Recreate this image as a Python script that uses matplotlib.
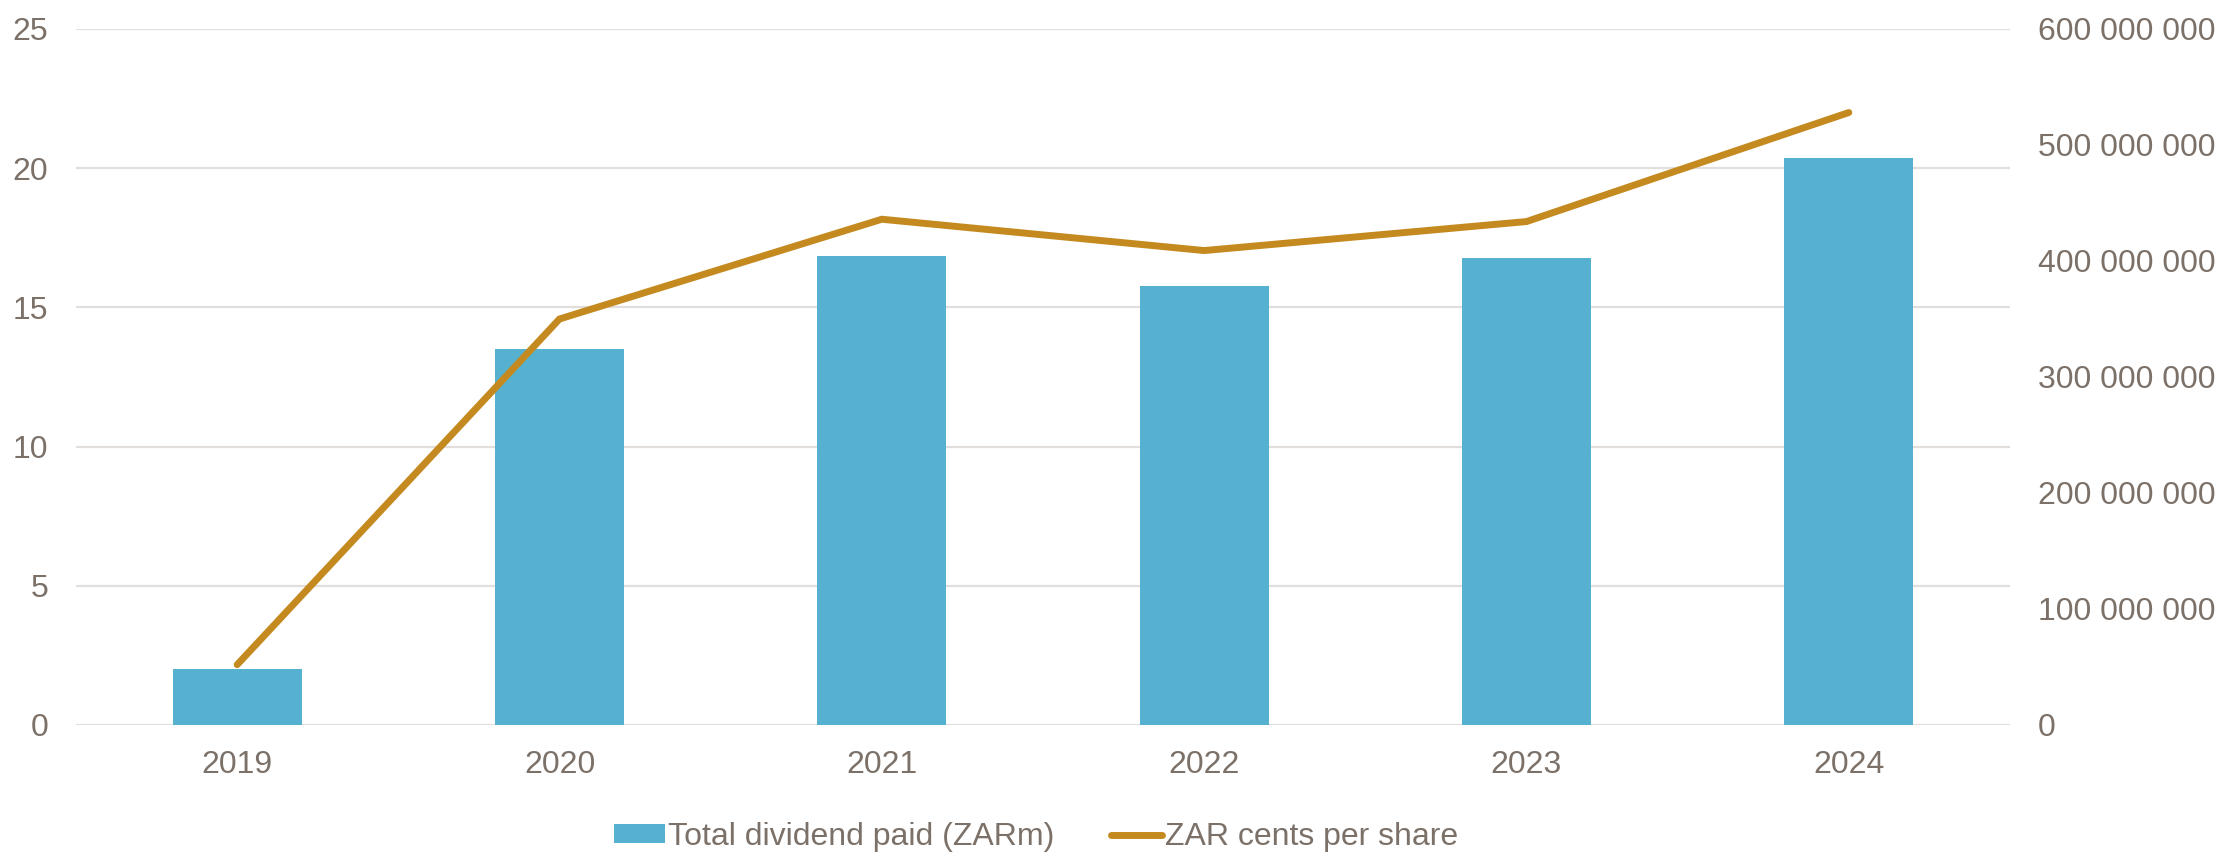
import matplotlib
matplotlib.use("Agg")
import matplotlib.pyplot as plt
from matplotlib.ticker import FuncFormatter, MultipleLocator
from matplotlib import font_manager

years = ["2019", "2020", "2021", "2022", "2023", "2024"]
total_dividend = [2.0, 13.5, 16.85, 15.77, 16.76, 20.38]
cents_per_share = [52e6, 350e6, 436e6, 409e6, 434e6, 528e6]

TEXT = "#7b7169"
GRID = "#e1dedb"
BAR = "#55b1cf"
LINE = "#c48a1f"

names = {f.name for f in font_manager.fontManager.ttflist}
main_font = "Liberation Sans" if "Liberation Sans" in names else "DejaVu Sans"
plt.rcParams["font.family"] = [main_font, "DejaVu Sans"]

FS = 23

fig = plt.figure(figsize=(22.23, 8.52), dpi=100)
ax = fig.add_axes([76 / 2223, 1 - 725 / 852, (2010 - 76) / 2223, (725 - 29) / 852])
ax2 = ax.twinx()

x = list(range(len(years)))
bars = ax.bar(x, total_dividend, width=0.4, color=BAR, zorder=2,
              label="Total dividend paid (ZARm)")
line, = ax2.plot(x, cents_per_share, color=LINE, lw=5.0, solid_capstyle="round",
                 solid_joinstyle="miter", label="ZAR cents per share", zorder=3)

ax.set_xlim(-0.5, len(years) - 0.5)
ax.set_ylim(0, 25)
ax.yaxis.set_major_locator(MultipleLocator(5))
ax2.set_ylim(0, 600e6)
ax2.yaxis.set_major_locator(MultipleLocator(100e6))
ax2.yaxis.set_major_formatter(FuncFormatter(lambda v, p: f"{int(v):,}".replace(",", " ")))

ax.set_xticks(x)
ax.set_xticklabels(years)

ax.grid(axis="y", color=GRID, lw=1.6, zorder=0)
ax.set_axisbelow(True)
for a in (ax, ax2):
    for s in a.spines.values():
        s.set_visible(False)
ax.tick_params(axis="both", length=0, labelsize=FS, labelcolor=TEXT)
ax.tick_params(axis="y", pad=20)
ax.tick_params(axis="x", pad=18)
ax2.tick_params(axis="y", length=0, labelsize=FS, labelcolor=TEXT, pad=20)

leg = fig.legend(handles=[bars, line], loc="center", bbox_to_anchor=(1036 / 2223, 1 - 837 / 852),
                 ncol=2, frameon=False, handlelength=1.6, handleheight=0.55,
                 handletextpad=0.1, columnspacing=1.75, borderpad=0,
                 prop={"family": main_font, "size": FS})
for t in leg.get_texts():
    t.set_color(TEXT)

fig.savefig("out.png", dpi=100)
